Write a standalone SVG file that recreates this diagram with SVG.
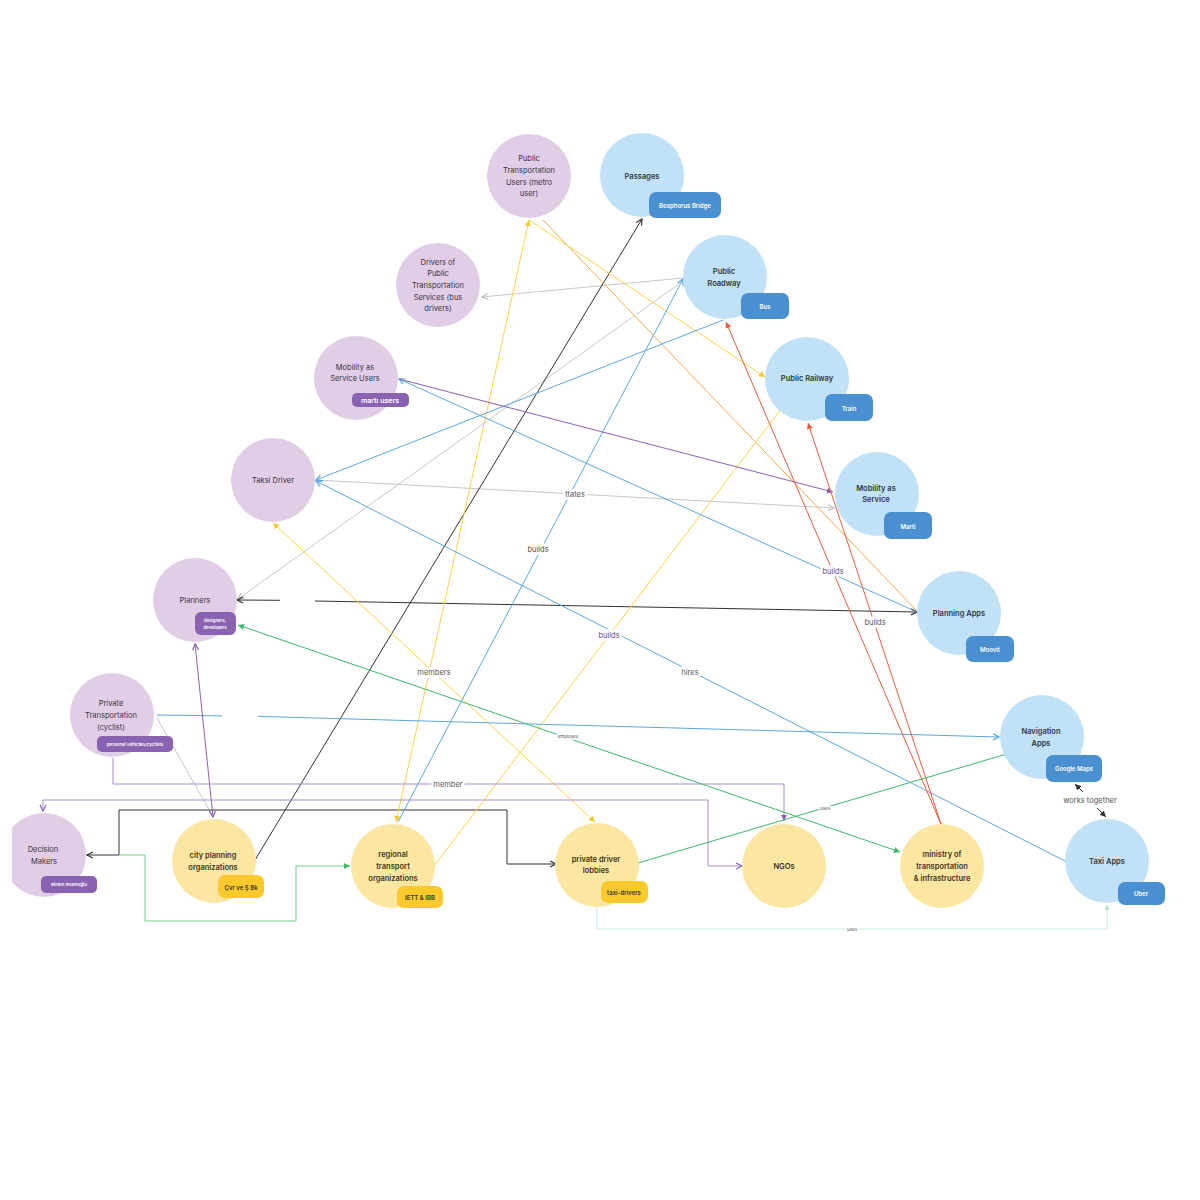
<svg xmlns="http://www.w3.org/2000/svg" width="1200" height="1200" viewBox="0 0 1200 1200">
<style>
text{font-family:Inter,"Noto Sans","Liberation Sans",sans-serif;text-anchor:middle;dominant-baseline:central}
.np{fill:#e1cde5}.nb{fill:#c1e1f6}.ny{fill:#fbe7a1}
.lp{font-size:7.5px;fill:#3a3340}
.lb{font-size:7.5px;font-weight:600;fill:#2d3640}
.ly{font-size:7.5px;font-weight:600;fill:#3a3520}
.tp{fill:#8a62b2}.tb{fill:#4a8fd0}.ty{fill:#fbc92b}
.tt{font-size:6px;font-weight:600;fill:#fff}
.tty{font-size:6px;font-weight:600;fill:#3a3520}
.e{fill:none;stroke-width:1}
.el{font-size:7.5px;fill:#555;stroke:#fff;stroke-width:5;paint-order:stroke;stroke-linejoin:round}
.es{font-size:4.5px;fill:#555;stroke:#fff;stroke-width:3;paint-order:stroke}
</style>
<defs>
<marker id="a-blue" viewBox="0 0 8 8" refX="7" refY="4" markerWidth="8" markerHeight="8" markerUnits="userSpaceOnUse" orient="auto-start-reverse"><path d="M1,1 L7,4 L1,7" fill="none" stroke="#5aa7e0" stroke-width="1.2"/></marker>
<marker id="a-grey" viewBox="0 0 8 8" refX="7" refY="4" markerWidth="8" markerHeight="8" markerUnits="userSpaceOnUse" orient="auto-start-reverse"><path d="M1,1 L7,4 L1,7" fill="none" stroke="#bdbdbd" stroke-width="1.2"/></marker>
<marker id="a-black" viewBox="0 0 8 8" refX="7" refY="4" markerWidth="8" markerHeight="8" markerUnits="userSpaceOnUse" orient="auto-start-reverse"><path d="M1,1 L7,4 L1,7" fill="none" stroke="#333" stroke-width="1.2"/></marker>
<marker id="a-purple" viewBox="0 0 8 8" refX="7" refY="4" markerWidth="8" markerHeight="8" markerUnits="userSpaceOnUse" orient="auto-start-reverse"><path d="M1,1 L7,4 L1,7" fill="none" stroke="#8a62b2" stroke-width="1.2"/></marker>
<marker id="f-purple" viewBox="0 0 8 8" refX="7" refY="4" markerWidth="7" markerHeight="7" markerUnits="userSpaceOnUse" orient="auto-start-reverse"><path d="M0,0.5 L7,4 L0,7.5 z" fill="#8a62b2"/></marker>
<marker id="f-yellow" viewBox="0 0 8 8" refX="7" refY="4" markerWidth="7" markerHeight="7" markerUnits="userSpaceOnUse" orient="auto-start-reverse"><path d="M0,0.5 L7,4 L0,7.5 z" fill="#f7c82e"/></marker>
<marker id="f-red" viewBox="0 0 8 8" refX="7" refY="4" markerWidth="7" markerHeight="7" markerUnits="userSpaceOnUse" orient="auto-start-reverse"><path d="M0,0.5 L7,4 L0,7.5 z" fill="#ee5a3c"/></marker>
<marker id="f-green" viewBox="0 0 8 8" refX="7" refY="4" markerWidth="7" markerHeight="7" markerUnits="userSpaceOnUse" orient="auto-start-reverse"><path d="M0,0.5 L7,4 L0,7.5 z" fill="#3cb96b"/></marker>
<marker id="f-lgreen" viewBox="0 0 8 8" refX="7" refY="4" markerWidth="6" markerHeight="6" markerUnits="userSpaceOnUse" orient="auto-start-reverse"><path d="M0,0.5 L7,4 L0,7.5 z" fill="#b6dfc2"/></marker>
<marker id="f-black" viewBox="0 0 8 8" refX="7" refY="4" markerWidth="7" markerHeight="7" markerUnits="userSpaceOnUse" orient="auto-start-reverse"><path d="M0,0.5 L7,4 L0,7.5 z" fill="#333"/></marker>
<clipPath id="clipL"><rect x="12" y="0" width="1188" height="1200"/></clipPath>
</defs>
<rect width="1200" height="1200" fill="#fff"/>

<g id="connectors">
<!-- grey -->
<path class="e" stroke="#c8c8c8" d="M683,278 L482,297" marker-end="url(#a-grey)"/>
<path class="e" stroke="#c8c8c8" d="M683,281 L238,599" marker-end="url(#a-grey)"/>
<path class="e" stroke="#c8c8c8" d="M316,480 L834,508" marker-end="url(#a-grey)"/>
<path class="e" stroke="#c8c8c8" d="M157,718 L212,815"/>
<!-- black -->
<path class="e" stroke="#333" d="M255,860 L642,219" marker-end="url(#a-black)"/>
<path class="e" stroke="#333" d="M917,612 L315,601 M280,600.3 L237,600" marker-start="url(#a-black)" marker-end="url(#a-black)"/>
<path class="e" stroke="#333" d="M556,864 L507,864 L507,810 L119,810 L119,855 L87,855" marker-start="url(#a-black)" marker-end="url(#a-black)"/>
<!-- orange -->
<path class="e" stroke="#f5a84c" d="M543,220 L917,611"/>
<!-- yellow -->
<path class="e" stroke="#f9d448" d="M396,822 L529,220" marker-start="url(#f-yellow)" marker-end="url(#f-yellow)"/>
<path class="e" stroke="#f9d448" d="M529,220 L765,377" marker-end="url(#f-yellow)"/>
<path class="e" stroke="#f9d448" d="M434,866 L784,405" marker-end="url(#f-yellow)"/>
<path class="e" stroke="#f9d448" d="M273,523 L595,822" marker-start="url(#f-yellow)" marker-end="url(#f-yellow)"/>
<!-- blue -->
<path class="e" stroke="#5aa7e0" d="M398,822 L683,279" marker-end="url(#a-blue)"/>
<path class="e" stroke="#5aa7e0" d="M723,320 L316,480" marker-end="url(#a-blue)"/>
<path class="e" stroke="#5aa7e0" d="M1067,862 L316,481" marker-end="url(#a-blue)"/>
<path class="e" stroke="#5aa7e0" d="M917,612 L399,379" marker-end="url(#a-blue)"/>
<path class="e" stroke="#5aa7e0" d="M157,715 L222,715.9 M258,716.4 L999,737" marker-end="url(#a-blue)"/>
<!-- purple -->
<path class="e" stroke="#8a62b2" d="M399,379 L833,492" marker-end="url(#f-purple)"/>
<path class="e" stroke="#8a62b2" d="M195,644 L213,817" marker-start="url(#a-purple)" marker-end="url(#a-purple)"/>
<path class="e" stroke="#a98bc9" d="M113,758 L113,784 L784,784 L784,821" marker-end="url(#f-purple)"/>
<path class="e" stroke="#a98bc9" d="M43,811 L43,800 L708,800 L708,866 L742,866" marker-start="url(#a-purple)" marker-end="url(#a-purple)"/>
<!-- red -->
<path class="e" stroke="#ee5a3c" d="M941,824 L726,322" marker-end="url(#f-red)"/>
<path class="e" stroke="#ee5a3c" d="M941,824 L808,423" marker-end="url(#f-red)"/>
<!-- green -->
<path class="e" stroke="#3cb96b" d="M238,625 L900,852" marker-start="url(#f-green)" marker-end="url(#f-green)"/>
<path class="e" stroke="#3cb96b" d="M638,863 L1010,753" marker-end="url(#f-green)"/>
<path class="e" stroke="#6fcf8e" d="M119,855 L145,855 L145,921 L296,921 L296,866 L350,866" marker-end="url(#f-green)"/>
<path class="e" stroke="#c6e8d0" d="M597,907 L597,929 L1107,929 L1107,905" marker-end="url(#f-lgreen)"/>
<!-- works together -->
<path class="e" stroke="#333" d="M1083,792 L1075,784" marker-end="url(#f-black)"/>
<path class="e" stroke="#333" d="M1097,808 L1106,817" marker-end="url(#f-black)"/>
<!-- labels -->
<text class="el" x="575" y="494">ttates</text>
<text class="el" x="538" y="549">builds</text>
<text class="el" x="833" y="571">builds</text>
<text class="el" x="609" y="635">builds</text>
<text class="el" x="875" y="622">builds</text>
<text class="el" x="434" y="672">members</text>
<text class="el" x="690" y="672">hires</text>
<text class="el" x="448" y="784">member</text>
<text class="es" x="568" y="736">employee</text>
<text class="es" x="825" y="808">uses</text>
<text class="es" x="852" y="929">uses</text>
<text class="el" x="1090" y="800">works together</text>
</g>

<g id="n-ptu"><circle class="np" cx="529" cy="176" r="42"/><text class="lp" x="529" y="158">Public</text><text class="lp" x="529" y="170">Transportation</text><text class="lp" x="529" y="182">Users (metro</text><text class="lp" x="529" y="193">user)</text></g>
<g id="n-drivers"><circle class="np" cx="438" cy="285" r="42"/><text class="lp" x="438" y="262">Drivers of</text><text class="lp" x="438" y="273">Public</text><text class="lp" x="438" y="285">Transportation</text><text class="lp" x="438" y="297">Services (bus</text><text class="lp" x="438" y="308">drivers)</text></g>
<g id="n-maasu"><circle class="np" cx="356" cy="378" r="42"/><text class="lp" x="355" y="367">Mobility as</text><text class="lp" x="355" y="378">Service Users</text><rect class="tp" x="352" y="393" width="57" height="14" rx="5"/><text class="tt" x="380" y="400" style="font-size:7px">martı users</text></g>
<g id="n-taksi"><circle class="np" cx="273" cy="480" r="42"/><text class="lp" x="273" y="480">Taksi Driver</text></g>
<g id="n-planners"><circle class="np" cx="195" cy="600" r="42"/><text class="lp" x="195" y="600">Planners</text><rect class="tp" x="195" y="612" width="41" height="23" rx="6"/><text class="tt" x="215" y="620" style="font-size:4.3px">designers,</text><text class="tt" x="215" y="627" style="font-size:4.3px">developers</text></g>
<g id="n-private"><circle class="np" cx="112" cy="715" r="42"/><text class="lp" x="111" y="703">Private</text><text class="lp" x="111" y="715">Transportation</text><text class="lp" x="111" y="727">(cyclist)</text><rect class="tp" x="97" y="736" width="76" height="16" rx="5"/><text class="tt" x="135" y="744" style="font-size:4.5px">personal vehicles/cyclists</text></g>
<g id="n-decision"><circle class="np" cx="44" cy="855" r="42" clip-path="url(#clipL)"/><text class="lp" x="43" y="849">Decision</text><text class="lp" x="44" y="861">Makers</text><rect class="tp" x="41" y="876" width="56" height="17" rx="5"/><text class="tt" x="69" y="884" style="font-size:4.5px">ekrem imamoğlu</text></g>

<g id="n-passages"><circle class="nb" cx="642" cy="175" r="42"/><text class="lb" x="642" y="176">Passages</text><rect class="tb" x="649" y="192" width="72" height="26" rx="7"/><text class="tt" x="685" y="205">Bosphorus Bridge</text></g>
<g id="n-roadway"><circle class="nb" cx="725" cy="277" r="42"/><text class="lb" x="724" y="271">Public</text><text class="lb" x="724" y="283">Roadway</text><rect class="tb" x="741" y="293" width="48" height="26" rx="7"/><text class="tt" x="765" y="306">Bus</text></g>
<g id="n-railway"><circle class="nb" cx="807" cy="379" r="42"/><text class="lb" x="807" y="378">Public Railway</text><rect class="tb" x="825" y="394" width="48" height="27" rx="7"/><text class="tt" x="849" y="408">Train</text></g>
<g id="n-maas"><circle class="nb" cx="877" cy="494" r="42"/><text class="lb" x="876" y="488">Mobility as</text><text class="lb" x="876" y="499">Service</text><rect class="tb" x="884" y="512" width="48" height="27" rx="7"/><text class="tt" x="908" y="526">Marti</text></g>
<g id="n-planningapps"><circle class="nb" cx="959" cy="613" r="42"/><text class="lb" x="959" y="613">Planning Apps</text><rect class="tb" x="966" y="636" width="48" height="26" rx="7"/><text class="tt" x="990" y="649">Moovit</text></g>
<g id="n-nav"><circle class="nb" cx="1042" cy="737" r="42"/><text class="lb" x="1041" y="731">Navigation</text><text class="lb" x="1041" y="743">Apps</text><rect class="tb" x="1046" y="755" width="56" height="27" rx="7"/><text class="tt" x="1074" y="768">Google Maps</text></g>
<g id="n-taxiapps"><circle class="nb" cx="1107" cy="861" r="42"/><text class="lb" x="1107" y="861">Taxi Apps</text><rect class="tb" x="1118" y="882" width="47" height="23" rx="7"/><text class="tt" x="1141" y="893">Uber</text></g>

<g id="n-city"><circle class="ny" cx="214" cy="861" r="42"/><text class="ly" x="213" y="855">city planning</text><text class="ly" x="213" y="867">organizations</text><rect class="ty" x="218" y="875" width="46" height="23" rx="7"/><text class="tty" x="241" y="887">Çvr ve Ş Bk</text></g>
<g id="n-regional"><circle class="ny" cx="393" cy="866" r="42"/><text class="ly" x="393" y="854">regional</text><text class="ly" x="393" y="866">transport</text><text class="ly" x="393" y="878">organizations</text><rect class="ty" x="397" y="886" width="46" height="22" rx="7"/><text class="tty" x="420" y="897">IETT &amp; IBB</text></g>
<g id="n-lobbies"><circle class="ny" cx="597" cy="865" r="42"/><text class="ly" x="596" y="859">private driver</text><text class="ly" x="596" y="870">lobbies</text><rect class="ty" x="601" y="881" width="47" height="22" rx="7"/><text class="tty" x="624" y="892">taxi-drivers</text></g>
<g id="n-ngos"><circle class="ny" cx="784" cy="866" r="42"/><text class="ly" x="784" y="866">NGOs</text></g>
<g id="n-ministry"><circle class="ny" cx="942" cy="866" r="42"/><text class="ly" x="942" y="854">ministry of</text><text class="ly" x="942" y="866">transportation</text><text class="ly" x="942" y="878">&amp; infrastructure</text></g>
</svg>
